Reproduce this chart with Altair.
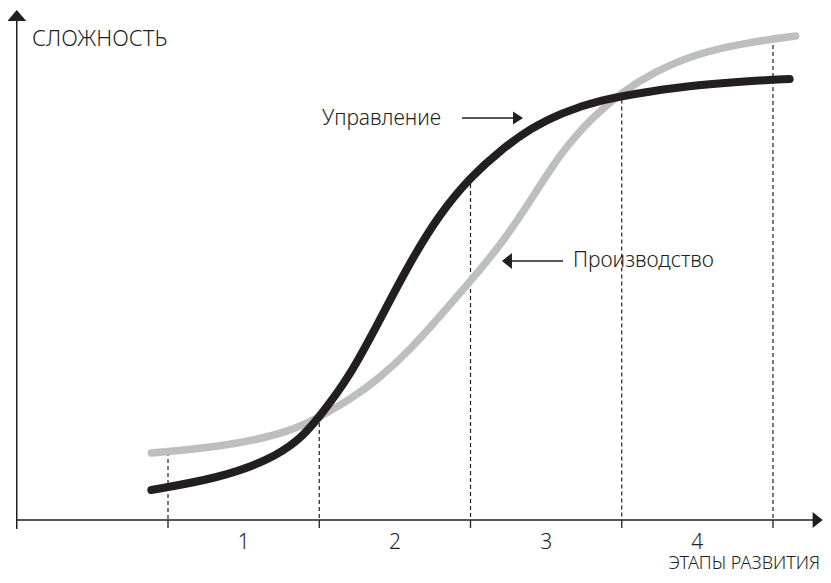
import altair as alt
import pandas as pd

# ---- data (stage units on x, complexity units on y) ----
upr_x = [-0.11, 0.34, 0.67, 0.87, 1.0, 1.2, 1.4, 1.6, 1.8, 2.0, 2.2, 2.4, 2.6, 2.85, 3.2, 3.5, 3.85, 4.11]
upr_y = [6.0, 8.4, 12.0, 16.0, 20.6, 28.6, 40.0, 51.6, 61.4, 68.6, 74.0, 78.4, 81.4, 84.0, 85.8, 87.0, 87.8, 88.2]

pro_x = [-0.11, 0.34, 0.67, 0.87, 1.0, 1.2, 1.4, 1.6, 1.8, 2.0, 2.2, 2.4, 2.6, 2.8, 3.0, 3.2, 3.5, 3.85, 4.15]
pro_y = [13.4, 14.6, 16.6, 18.6, 20.6, 24.0, 28.4, 34.0, 40.8, 47.8, 55.0, 64.0, 73.6, 80.4, 85.6, 89.4, 93.4, 95.6, 96.8]

bounds = [0, 1, 2, 3, 4]
bound_tops = [13.6, 20.8, 68.6, 85.5, 96.4]
stage_labels = ["1", "2", "3", "4"]
stage_centers = [0.5, 1.5, 2.5, 3.5]

INK = "#231f20"
GREY = "#bcbec0"
FONT = "Noto Sans"
WEIGHT = 300

xs = alt.Scale(domain=[-1.0579, 4.3306], nice=False, zero=False)
ys = alt.Scale(domain=[-11.0, 102.4], nice=False, zero=False)

def X(f="x"):
    return alt.X(f"{f}:Q", scale=xs, axis=None)

def Y(f="y"):
    return alt.Y(f"{f}:Q", scale=ys, axis=None)

upr = pd.DataFrame({"x": upr_x, "y": upr_y})
pro = pd.DataFrame({"x": pro_x, "y": pro_y})
bd = pd.DataFrame({"x": bounds, "y": bound_tops, "y2": [0] * 5, "yt": [-1.6] * 5})
st = pd.DataFrame({"x": stage_centers, "t": stage_labels, "y": [-5.8] * 4})

# dashed boundary lines
dashes = alt.Chart(bd).mark_rule(color=INK, strokeWidth=1.2, strokeDash=[4, 3]).encode(
    x=X(), y=Y(), y2="y2:Q")
ticks = alt.Chart(bd).mark_rule(color=INK, strokeWidth=1.3).encode(
    x=X(), y=Y("y2"), y2="yt:Q")

# axes
axes_df = pd.DataFrame({"x": [-1.0, -1.0], "x2": [-1.0, 4.27], "y": [-1.8, 0.0], "y2": [99.8, 0.0]})
axes = alt.Chart(axes_df).mark_rule(color=INK, strokeWidth=1.5).encode(
    x=X(), x2="x2:Q", y=Y(), y2="y2:Q")

def head(x, y, path):
    return alt.Chart(pd.DataFrame({"x": [x], "y": [y]})).mark_point(
        shape=path, size=400, filled=True, color=INK, opacity=1, strokeWidth=0
    ).encode(x=X(), y=Y())

up_head = head(-1.0, 102.0, "M0,0L-0.95,1.1L0.95,1.1Z")
right_head = head(4.328, 0.0, "M0,0L-1,-0.8L-1,0.8Z")

# curves
pro_line = alt.Chart(pro).mark_line(color=GREY, strokeWidth=7.5, strokeCap="round",
                                    interpolate="basis").encode(x=X(), y=Y())
upr_line = alt.Chart(upr).mark_line(color=INK, strokeWidth=8, strokeCap="round",
                                    interpolate="basis").encode(x=X(), y=Y())

# annotation arrows
ann_df = pd.DataFrame({"x": [1.944, 2.612], "x2": [2.29, 2.27], "y": [80.4, 51.8]})
ann = alt.Chart(ann_df).mark_rule(color=INK, strokeWidth=1.5).encode(
    x=X(), x2="x2:Q", y=Y())
upr_head = head(2.347, 80.4, "M0,0L-1,-0.65L-1,0.65Z")
pro_head = head(2.208, 51.8, "M0,0L1,-0.8L1,0.8Z")

def label(x, y, text, align="left", size=21):
    return alt.Chart(pd.DataFrame({"x": [x], "y": [y], "t": [text]})).mark_text(
        align=align, baseline="alphabetic", font=FONT, fontSize=size,
        fontWeight=WEIGHT, color=INK
    ).encode(x=X(), y=Y(), text="t:N")

t_y = label(-0.899, 94.8, "СЛОЖНОСТЬ", size=22)
t_upr = label(1.018, 79.0, "Управление")
t_pro = label(2.678, 50.6, "Производство")
t_x = label(4.311, -9.8, "ЭТАПЫ РАЗВИТИЯ", align="right", size=18)
t_st = alt.Chart(st).mark_text(align="center", baseline="alphabetic", font=FONT,
                               fontSize=21, fontWeight=WEIGHT, color=INK).encode(
    x=X(), y=Y(), text="t:N")

chart = alt.layer(
    dashes, ticks, axes, up_head, right_head, pro_line, upr_line,
    ann, upr_head, pro_head, t_y, t_upr, t_pro, t_x, t_st
).properties(
    width=815, height=567, padding=0,
    autosize=alt.AutoSizeParams(type="none"),
    background="white",
).configure_view(stroke=None)

chart.save("out.html", embed_options={"renderer": "svg", "actions": False})
